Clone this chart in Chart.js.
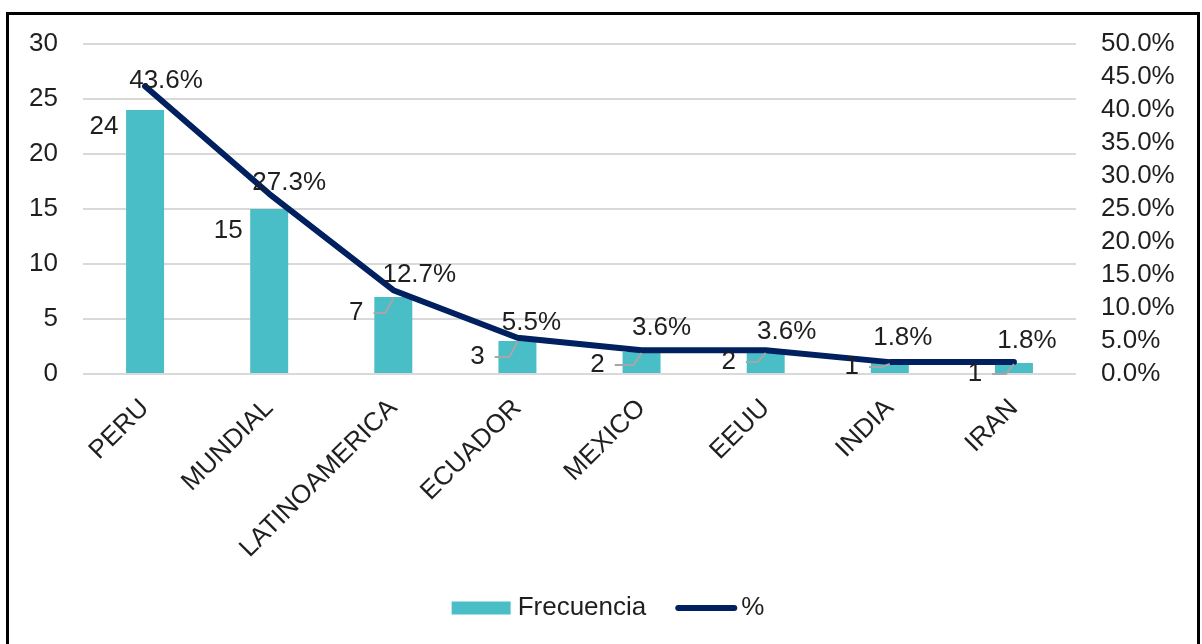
<!DOCTYPE html>
<html>
<head>
<meta charset="utf-8">
<script src="https://cdn.jsdelivr.net/npm/chart.js@4.4.1/dist/chart.umd.min.js"></script>
<style>
  html, body { margin: 0; padding: 0; background: #ffffff; overflow: hidden; }
  #wrap { position: relative; width: 1202px; height: 644px; }
  #frame { position: absolute; left: 6px; top: 12px; width: 1194px; height: 700px;
           box-sizing: border-box; border: 3px solid #000000; }
  #c { position: absolute; left: 0; top: 0; }
</style>
</head>
<body>
<div id="wrap">
  <div id="frame"></div>
  <canvas id="c" width="1202" height="644"></canvas>
</div>
<script>
// Categories and series
const categories = ['PERU', 'MUNDIAL', 'LATINOAMERICA', 'ECUADOR', 'MEXICO', 'EEUU', 'INDIA', 'IRAN'];
const frecuencia = [24, 15, 7, 3, 2, 2, 1, 1];
const porcentaje = [43.6, 27.3, 12.7, 5.5, 3.6, 3.6, 1.8, 1.8];

// Axis ranges
const countAxis = { min: 0, max: 30, step: 5 };
const pctAxis = { min: 0, max: 50, step: 5 };

// Styling
const TEXT = '#1f1f1f';
const FONT_FAMILY = '"Liberation Sans", Arial, Helvetica, sans-serif';
const FONT_SIZE = 26;
const BAR_COLOR = '#4ABEC6';
const LINE_COLOR = '#002060';
const GRID_COLOR = '#D9D9D9';
const LEADER_COLOR = '#A6A6A6';

// Data label placement (offsets from the mark's anchor, in px)
const pctLabelOffsets = [[21, -5], [20, -11], [26, -15], [14, -15], [20, -22], [21, -18], [13, -24], [13, -21]];
const countLabelOffsets = [[-41, 17], [-41, 22], [-37, 16], [-40, 16], [-44, 13], [-37, 10], [-38, 4], [-39, 11]];
const countLeader = [false, false, true, true, true, true, true, true];

const font = (size) => size + 'px ' + FONT_FAMILY;

const dataLabels = {
  id: 'dataLabels',
  afterDatasetsDraw(chart) {
    const ctx = chart.ctx;
    ctx.save();
    ctx.font = font(FONT_SIZE);
    ctx.fillStyle = TEXT;
    ctx.textAlign = 'center';
    ctx.textBaseline = 'middle';

    // counts beside the bars, with leader lines where moved away
    const barMeta = chart.getDatasetMeta(1);
    barMeta.data.forEach((bar, i) => {
      const [dx, dy] = countLabelOffsets[i];
      const txt = String(frecuencia[i]);
      const lx = bar.x + dx, ly = bar.y + dy;
      ctx.fillText(txt, lx, ly);
      if (countLeader[i]) {
        const w = ctx.measureText(txt).width;
        ctx.save();
        ctx.strokeStyle = LEADER_COLOR;
        ctx.lineWidth = 2;
        ctx.beginPath();
        ctx.moveTo(lx + w / 2 + 10, ly);
        ctx.lineTo(bar.x - 8, ly);
        ctx.lineTo(bar.x, bar.y + 1);
        ctx.stroke();
        ctx.restore();
      }
    });

    // percentages above the line
    const lineMeta = chart.getDatasetMeta(0);
    lineMeta.data.forEach((pt, i) => {
      const [dx, dy] = pctLabelOffsets[i];
      ctx.fillText(porcentaje[i].toFixed(1) + '%', pt.x + dx, pt.y + dy);
    });
    ctx.restore();
  }
};

const bottomLegend = {
  id: 'bottomLegend',
  afterDraw(chart) {
    const ctx = chart.ctx;
    ctx.save();
    ctx.font = font(FONT_SIZE);
    ctx.fillStyle = TEXT;
    ctx.textBaseline = 'middle';
    ctx.textAlign = 'left';
    const y = 608;
    const barLabel = chart.data.datasets[1].label;
    const lineLabel = chart.data.datasets[0].label;
    const swatchW = 59, swatchH = 13, gap1 = 7, gap2 = 29, lineW = 62, gap3 = 4;
    const w1 = ctx.measureText(barLabel).width;
    const w2 = ctx.measureText(lineLabel).width;
    const total = swatchW + gap1 + w1 + gap2 + lineW + gap3 + w2;
    let x = chart.width / 2 + 7 - total / 2;
    ctx.fillStyle = BAR_COLOR;
    ctx.fillRect(x, y - swatchH / 2, swatchW, swatchH);
    x += swatchW + gap1;
    ctx.fillStyle = TEXT;
    ctx.fillText(barLabel, x, y);
    x += w1 + gap2;
    ctx.strokeStyle = LINE_COLOR;
    ctx.lineWidth = 6;
    ctx.lineCap = 'round';
    ctx.beginPath();
    ctx.moveTo(x + 3, y);
    ctx.lineTo(x + lineW - 3, y);
    ctx.stroke();
    x += lineW + gap3;
    ctx.fillText(lineLabel, x, y);
    ctx.restore();
  }
};

new Chart(document.getElementById('c'), {
  type: 'bar',
  data: {
    labels: categories,
    datasets: [
      {
        type: 'line',
        label: '%',
        data: porcentaje,
        yAxisID: 'yPct',
        borderColor: LINE_COLOR,
        backgroundColor: LINE_COLOR,
        borderWidth: 6,
        pointRadius: 0,
        tension: 0,
        borderCapStyle: 'round',
        borderJoinStyle: 'round',
        order: 0
      },
      {
        type: 'bar',
        label: 'Frecuencia',
        data: frecuencia,
        yAxisID: 'yCount',
        backgroundColor: BAR_COLOR,
        barPercentage: 0.306,
        categoryPercentage: 1,
        order: 1
      }
    ]
  },
  options: {
    responsive: false,
    animation: false,
    layout: { padding: { top: 44, left: 0, right: 0, bottom: 0 } },
    plugins: { legend: { display: false }, tooltip: { enabled: false } },
    scales: {
      x: {
        grid: { display: false },
        border: { display: false },
        ticks: {
          autoSkip: false, minRotation: 45, maxRotation: 45, padding: 11,
          color: TEXT, font: { family: FONT_FAMILY, size: FONT_SIZE }
        },
        afterFit(s) { s.height = 270; }
      },
      yCount: {
        position: 'left',
        min: countAxis.min, max: countAxis.max,
        ticks: { stepSize: countAxis.step, autoSkip: false, padding: 25, color: TEXT, font: { family: FONT_FAMILY, size: FONT_SIZE } },
        grid: { color: GRID_COLOR, lineWidth: 2, drawTicks: false },
        border: { display: false },
        afterFit(s) { s.width = 83; }
      },
      yPct: {
        position: 'right',
        min: pctAxis.min, max: pctAxis.max,
        ticks: {
          stepSize: pctAxis.step, autoSkip: false, padding: 25, color: TEXT,
          font: { family: FONT_FAMILY, size: FONT_SIZE },
          callback: (v) => Number(v).toFixed(1) + '%'
        },
        grid: { display: false, drawTicks: false },
        border: { display: false },
        afterFit(s) { s.width = 126; }
      }
    }
  },
  plugins: [dataLabels, bottomLegend]
});
</script>
</body>
</html>
